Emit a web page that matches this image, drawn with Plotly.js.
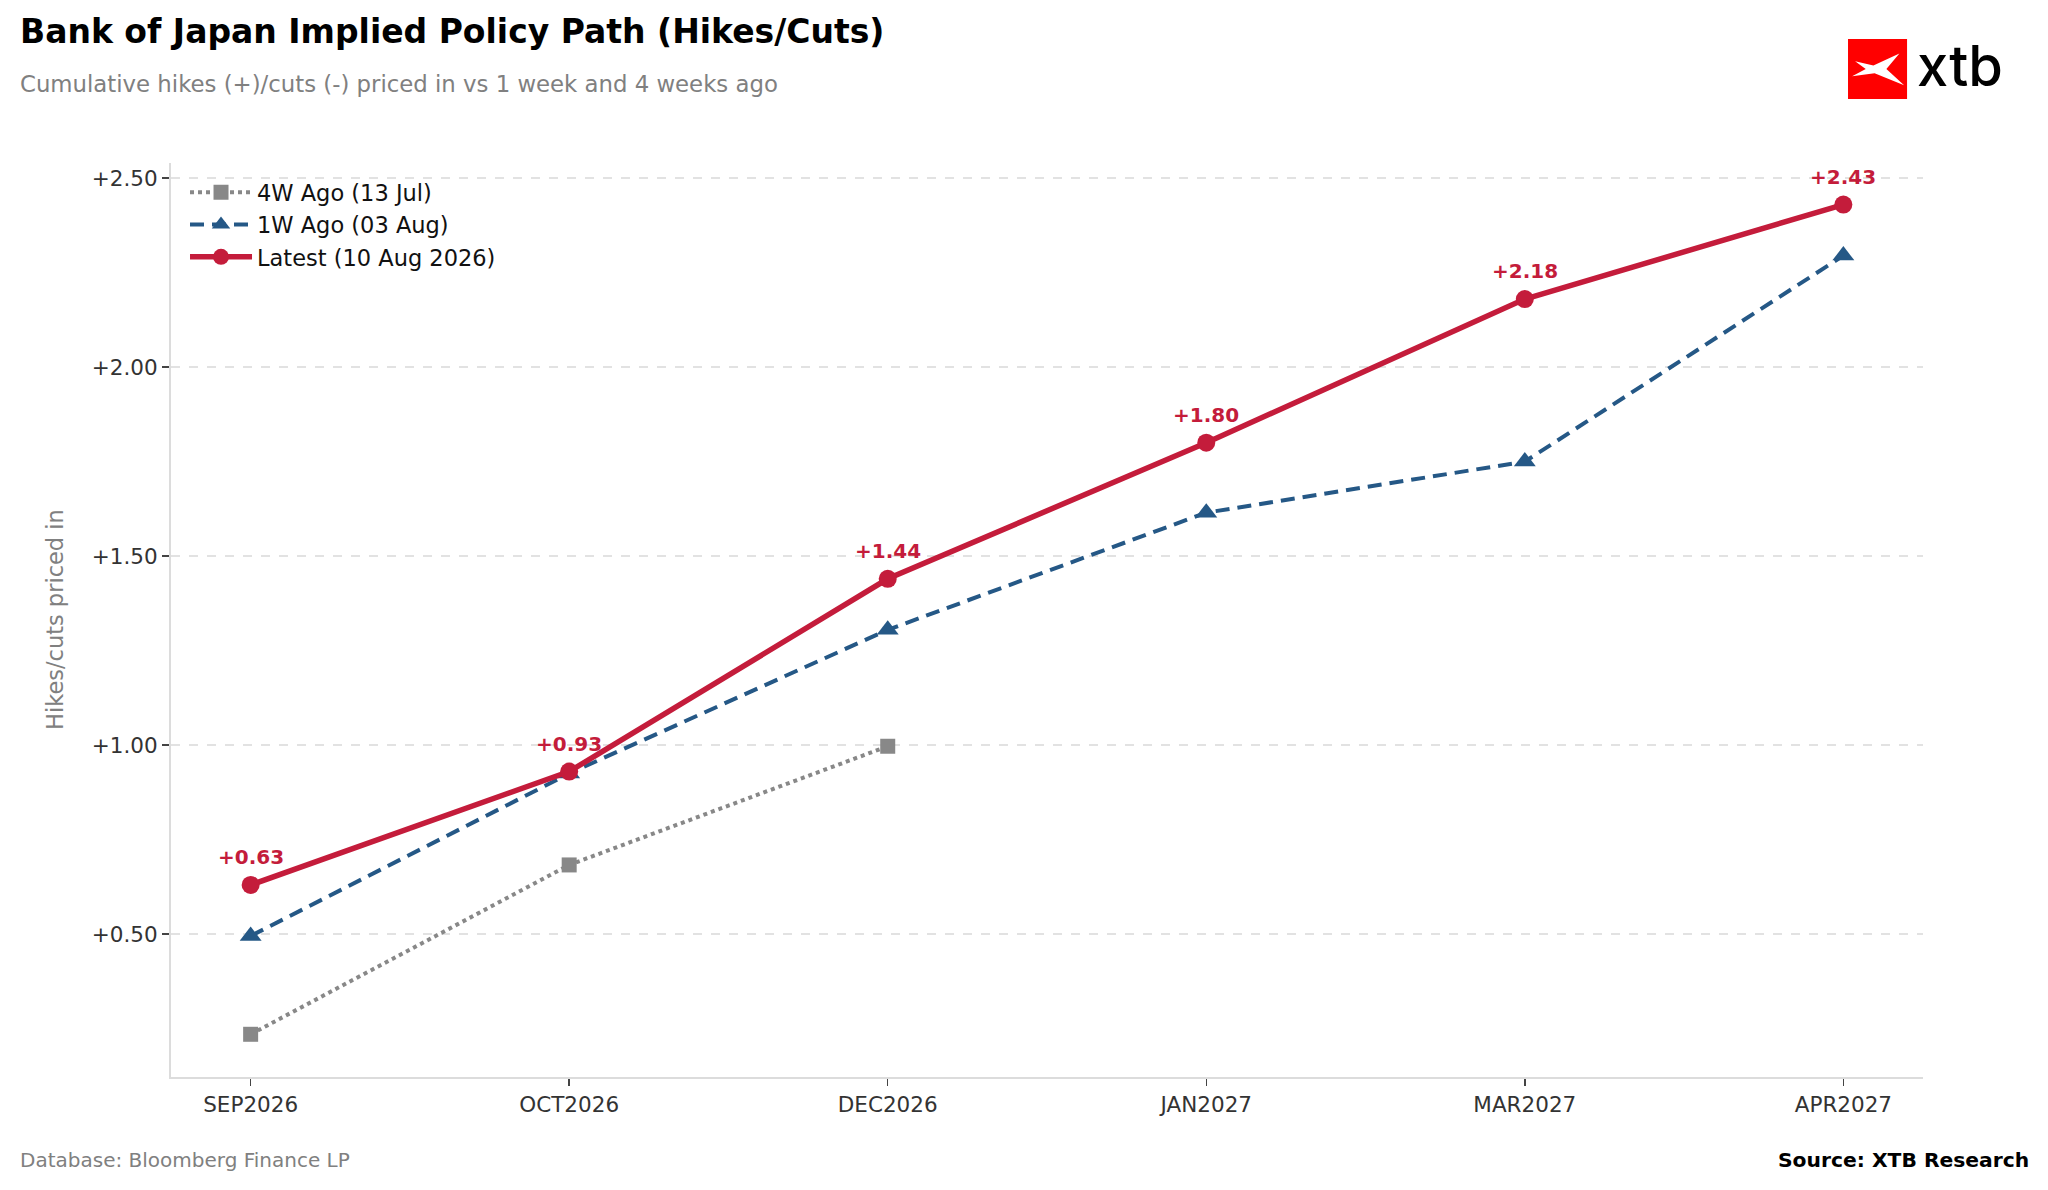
<!DOCTYPE html>
<html>
<head>
<meta charset="utf-8">
<script src="https://cdn.plot.ly/plotly-3.0.1.min.js"></script>
<style>
  html, body { margin: 0; padding: 0; background: #ffffff; }
  #chart { width: 2048px; height: 1190px; }
</style>
</head>
<body>
<div id="chart"></div>
<script>
/* BoJ implied policy path */
var meetings = ['SEP2026', 'OCT2026', 'DEC2026', 'JAN2027', 'MAR2027', 'APR2027'];
var latest = [0.63, 0.93, 1.44, 1.80, 2.18, 2.43];
var weekAgo = [0.495, 0.925, 1.305, 1.615, 1.75, 2.295];
var monthAgo = [0.235, 0.683, 0.997];

var yTicks = [0.5, 1.0, 1.5, 2.0, 2.5];

function fmt(v) {
	return (v >= 0 ? '+' : '') + v.toFixed(2);
}

function drawChart() {

	var trace4w = {
		x: meetings.slice(0, monthAgo.length),
		y: monthAgo,
		type: 'scatter',
		mode: 'lines+markers',
		name: '4W Ago (13 Jul)',
		line: { color: '#888888', width: 4, dash: 'dot' },
		marker: { symbol: 'square', size: 15, color: '#888888' }
	};

	var trace1w = {
		x: meetings,
		y: weekAgo,
		type: 'scatter',
		mode: 'lines+markers',
		name: '1W Ago (03 Aug)',
		line: { color: '#255886', width: 4, dash: '14px,8px' },
		marker: { symbol: 'triangle-up', size: 19, color: '#255886' }
	};

	var traceLatest = {
		x: meetings,
		y: latest,
		type: 'scatter',
		mode: 'lines+markers',
		name: 'Latest (10 Aug 2026)',
		line: { color: '#c41c3b', width: 5.5 },
		marker: { symbol: 'circle', size: 18, color: '#c41c3b' }
	};

	var notes = [];
	for (var i = 0; i < meetings.length; i++) {
		notes.push({
			x: meetings[i], y: latest[i], xref: 'x', yref: 'y',
			text: '<b>' + fmt(latest[i]) + '</b>',
			showarrow: false, yshift: 28,
			font: { family: 'DejaVu Sans', size: 20, color: '#c41c3b' }
		});
	}

	// titles, axis title, footer and logo text
	notes.push({
		xref: 'paper', yref: 'paper', x: -0.0873, y: 1.1444,
		xanchor: 'left', yanchor: 'middle', showarrow: false,
		text: '<b>Bank of Japan Implied Policy Path (Hikes/Cuts)</b>',
		font: { family: 'DejaVu Sans', size: 33, color: '#000000' }
	});
	notes.push({
		xref: 'paper', yref: 'paper', x: -0.0873, y: 1.0864,
		xanchor: 'left', yanchor: 'middle', showarrow: false,
		text: 'Cumulative hikes (+)/cuts (-) priced in vs 1 week and 4 weeks ago',
		font: { family: 'DejaVu Sans', size: 22.8, color: '#808080' }
	});
	notes.push({
		xref: 'paper', yref: 'paper', x: -0.0662, y: 0.5,
		xanchor: 'center', yanchor: 'middle', showarrow: false, textangle: -90,
		text: 'Hikes/cuts priced in',
		font: { family: 'DejaVu Sans', size: 22.5, color: '#808080' }
	});
	notes.push({
		xref: 'paper', yref: 'paper', x: -0.0873, y: -0.0908,
		xanchor: 'left', yanchor: 'middle', showarrow: false,
		text: 'Database: Bloomberg Finance LP',
		font: { family: 'DejaVu Sans', size: 20, color: '#808080' }
	});
	notes.push({
		xref: 'paper', yref: 'paper', x: 1.0615, y: -0.0908,
		xanchor: 'right', yanchor: 'middle', showarrow: false,
		text: '<b>Source: XTB Research</b>',
		font: { family: 'DejaVu Sans', size: 20.3, color: '#000000' }
	});
	notes.push({
		xref: 'paper', yref: 'paper', x: 0.9955, y: 1.106,
		xanchor: 'left', yanchor: 'middle', showarrow: false,
		text: 'xtb',
		font: { family: 'Inter', size: 56, color: '#000000', weight: 500 }
	});

	// logo box
	var bx0 = 0.9572, bx1 = 0.9909, by0 = 1.0700, by1 = 1.1357;
	function px(u) { return bx0 + (bx1 - bx0) * u; }
	function py(v) { return by1 - (by1 - by0) * v; }
	var wing = [[0.12, 0.37], [0.43, 0.44], [0.87, 0.24], [0.65, 0.50], [0.95, 0.77],
		[0.45, 0.57], [0.07, 0.62], [0.30, 0.50]];
	var path = '';
	for (var k = 0; k < wing.length; k++) {
		path += (k === 0 ? 'M ' : ' L ') + px(wing[k][0]) + ',' + py(wing[k][1]);
	}
	path += ' Z';

	var layout = {
		width: 2048,
		height: 1190,
		paper_bgcolor: '#ffffff',
		plot_bgcolor: '#ffffff',
		margin: { l: 171, r: 125, t: 163, b: 113 },
		font: { family: 'DejaVu Sans', size: 21, color: '#333333' },
		showlegend: true,
		legend: {
			x: 0.008, y: 0.991, xanchor: 'left', yanchor: 'top',
			bgcolor: 'rgba(255,255,255,0)',
			font: { family: 'DejaVu Sans', size: 22.5, color: '#111111' },
			itemwidth: 62,
			tracegroupgap: 0
		},
		xaxis: {
			type: 'category',
			range: [-0.25, 5.25],
			showgrid: false,
			showline: true, linecolor: '#dcdcdc', linewidth: 2,
			ticks: 'outside', ticklen: 7, tickwidth: 1.5, tickcolor: '#444444',
			tickfont: { family: 'DejaVu Sans', size: 21.5, color: '#333333' },
			zeroline: false, fixedrange: true
		},
		yaxis: {
			range: [0.122, 2.54],
			tickmode: 'array',
			tickvals: yTicks,
			ticktext: yTicks.map(fmt),
			showgrid: true, gridcolor: '#e2e2e2', gridwidth: 1.5, griddash: 'dash',
			showline: true, linecolor: '#dcdcdc', linewidth: 2,
			ticks: 'outside', ticklen: 7, tickwidth: 1.5, tickcolor: '#444444',
			tickfont: { family: 'DejaVu Sans', size: 21.5, color: '#333333' },
			zeroline: false, fixedrange: true
		},
		annotations: notes,
		shapes: [
			{ type: 'rect', xref: 'paper', yref: 'paper', x0: bx0, x1: bx1, y0: by0, y1: by1,
				fillcolor: '#ff0000', line: { width: 0 } },
			{ type: 'path', xref: 'paper', yref: 'paper', path: path,
				fillcolor: '#ffffff', line: { width: 0 } }
		]
	};

	Plotly.newPlot('chart', [trace4w, trace1w, traceLatest], layout, { displayModeBar: false, staticPlot: true });
}

window.onload = drawChart;
</script>
</body>
</html>
